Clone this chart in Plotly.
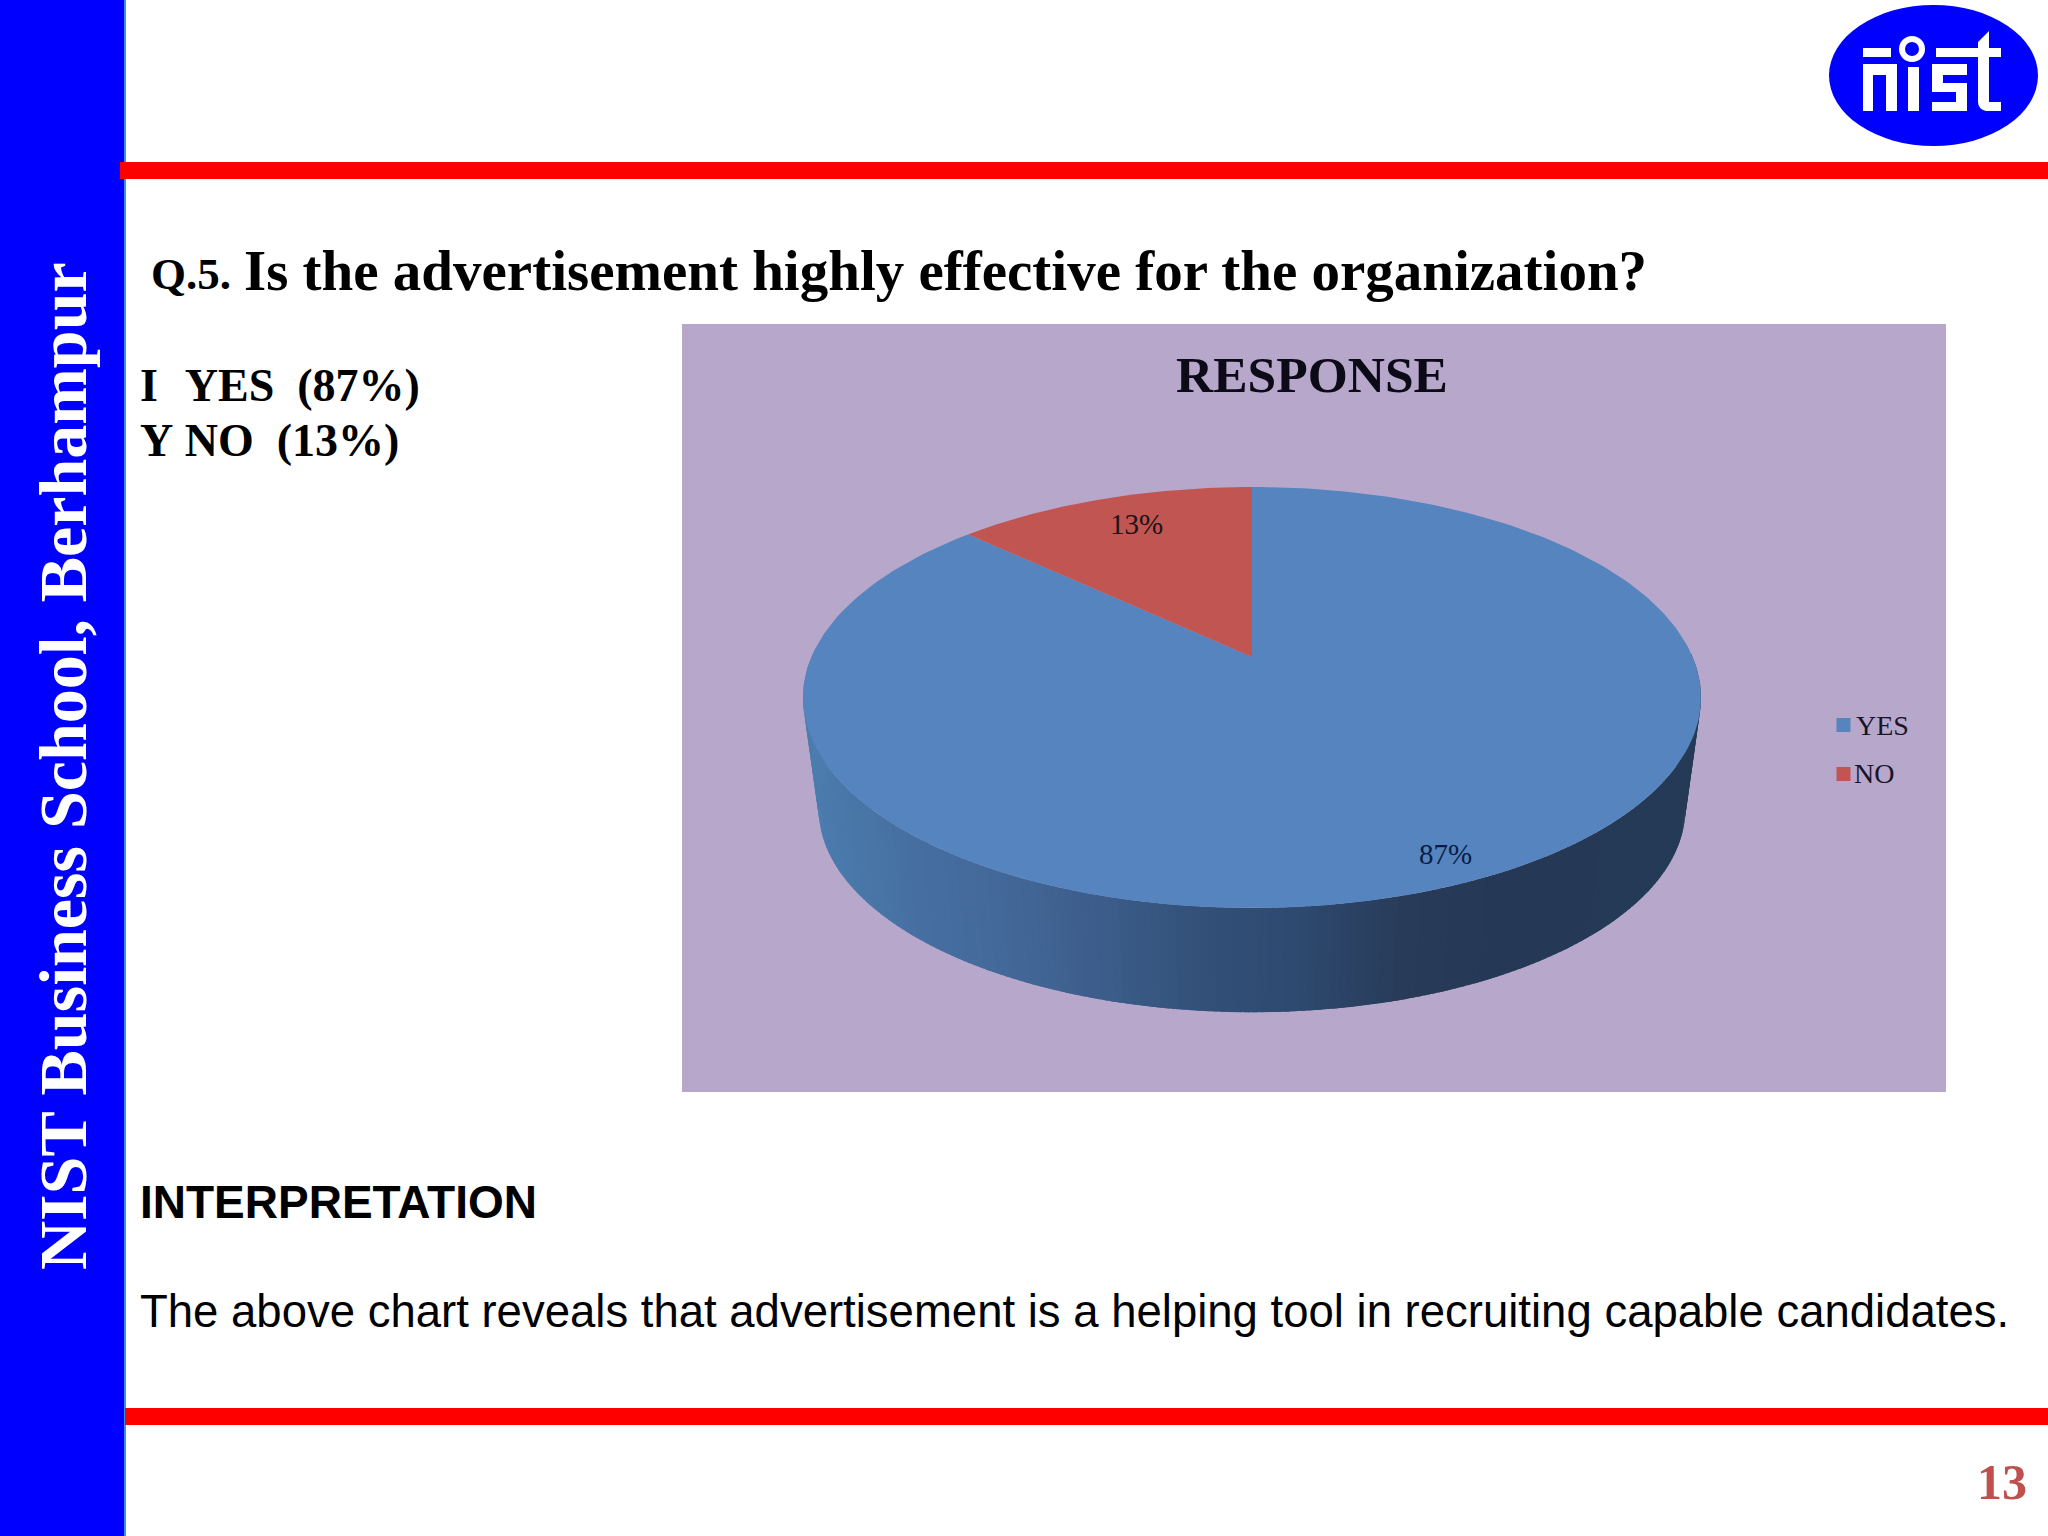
import numpy as np
import plotly.graph_objects as go

# chart data
categories = ['YES', 'NO']
values = [87, 13]
pie_colors = ['#5584BF', '#C15552']
pct_labels = ['87%', '13%']
chart_title = 'RESPONSE'

# side wall shading, left to right across the pie
wall_stops_x = [803, 900, 1000, 1100, 1200, 1290, 1400, 1500, 1701]
wall_stops_r = [76, 70, 67, 60, 50, 46, 40, 37, 37]
wall_stops_g = [124, 112, 104, 92, 80, 74, 60, 57, 58]
wall_stops_b = [174, 162, 152, 138, 120, 112, 90, 86, 86]

# pie projection, a tilted disc seen in perspective
apex_x, apex_y = 1252, 657
scale_x, scale_y, tilt = 440.6, 202.7, 0.1924
depth, lower_scale = 113, 0.965


def project(theta, scale=1.0, dy=0.0):
    # theta runs clockwise from the top of the disc
    u, v = np.sin(theta), np.cos(theta)
    w = 1 + tilt * v
    return apex_x + scale * scale_x * u / w, apex_y + dy - scale * scale_y * v / w


def wedge(start, end):
    t = np.linspace(start, end, 240)
    x, y = project(t)
    return np.r_[apex_x, x, apex_x], np.r_[apex_y, y, apex_y]


fig = go.Figure()

# side wall of the pie, thin strips so the shade can change with x
edges = np.linspace(np.pi / 2 + 0.19, 3 * np.pi / 2 - 0.19, 181)
for a, b in zip(edges[:-1], edges[1:]):
    t = np.linspace(a - 0.012, b, 4)
    xt, yt = project(t)
    xb, yb = project(t, lower_scale, depth)
    mid = xt.mean()
    r = np.interp(mid, wall_stops_x, wall_stops_r)
    g = np.interp(mid, wall_stops_x, wall_stops_g)
    b_ = np.interp(mid, wall_stops_x, wall_stops_b)
    fig.add_trace(go.Scatter(
        x=np.r_[xt, xb[::-1]], y=np.r_[yt, yb[::-1]], mode='lines', fill='toself',
        fillcolor=f'rgb({r:.0f},{g:.0f},{b_:.0f})', line=dict(width=0),
        showlegend=False, hoverinfo='skip'))

# left and right ends of the wall down from the widest part of the disc
for a, b in [(np.pi / 2 - 0.02, np.pi / 2 + 0.2), (3 * np.pi / 2 - 0.2, 3 * np.pi / 2 + 0.02)]:
    t = np.linspace(a, b, 12)
    xt, yt = project(t)
    xb, yb = project(t, lower_scale, depth)
    mid = xt.mean()
    r = np.interp(mid, wall_stops_x, wall_stops_r)
    g = np.interp(mid, wall_stops_x, wall_stops_g)
    b_ = np.interp(mid, wall_stops_x, wall_stops_b)
    fig.add_trace(go.Scatter(
        x=np.r_[xt, xb[::-1]], y=np.r_[yt, yb[::-1]], mode='lines', fill='toself',
        fillcolor=f'rgb({r:.0f},{g:.0f},{b_:.0f})', line=dict(width=0),
        showlegend=False, hoverinfo='skip'))

# top of the pie, slices go clockwise from 12 o'clock
start = 0.0
for name, val, col in zip(categories, values, pie_colors):
    end = start + 2 * np.pi * val / sum(values)
    x, y = wedge(start, end)
    fig.add_trace(go.Scatter(x=x, y=y, mode='lines', fill='toself', fillcolor=col,
                             line=dict(width=0), name=name, showlegend=False, hoverinfo='skip'))
    start = end

# legend squares
for yy, col in zip([725, 774], pie_colors):
    fig.add_trace(go.Scatter(x=[1843.5], y=[yy], mode='markers',
                             marker=dict(symbol='square', size=14, color=col),
                             showlegend=False, hoverinfo='skip'))

SERIF = 'Liberation Serif'
SANS = 'Liberation Sans'


def add_text(text, x, y, size, family=SERIF, color='#000000', anchor='left', bold=False, angle=0):
    if bold:
        text = f'<b>{text}</b>'
    fig.add_annotation(x=x, y=y, xref='x', yref='y', text=text, showarrow=False, xanchor=anchor,
                       yanchor='middle', textangle=angle, borderpad=0,
                       font=dict(family=family, size=size, color=color))


nb = '\u00a0'
hair = '\u200a'
add_text('NIST Business School, Berhampur', 63, 766, 68, color='#FFFFFF', anchor='center', bold=True, angle=-90)
add_text('Q.5.', 150, 274, 45, bold=True)
add_text('Is the advertisement highly effective for the organization?', 243, 270, 57, bold=True)
add_text(f'I{nb}{nb}{hair}YES{nb}{nb}(87%)', 139, 385, 46, bold=True)
add_text(f'Y{nb}NO{nb}{nb}(13%)', 139, 440, 46, bold=True)
add_text('INTERPRETATION', 139, 1202, 46, family=SANS, bold=True)
add_text('The above chart reveals that advertisement is a helping tool in recruiting capable candidates.',
         139, 1311, 45.5, family=SANS)
add_text('13', 2002, 1482, 50, color='#C0504D', anchor='center', bold=True)

add_text(chart_title, 1312, 374, 51.5, color='#0d0a18', anchor='center', bold=True)
add_text(pct_labels[1], 1136, 524, 29, color='#1c1218', anchor='center')
add_text(pct_labels[0], 1445, 854, 29, color='#0b1c44', anchor='center')
add_text(categories[0], 1855, 725, 28, color='#1a1428')
add_text(categories[1], 1853, 773, 28, color='#1a1428')

# slide furniture
shapes = [
    dict(type='rect', x0=682, x1=1946, y0=324, y1=1092, fillcolor='#B6A7CB'),
    dict(type='rect', x0=0, x1=125, y0=0, y1=1536, fillcolor='#0000FF'),
    dict(type='rect', x0=124, x1=126, y0=0, y1=1536, fillcolor='#3A8CFF'),
    dict(type='rect', x0=120, x1=2048, y0=162, y1=179, fillcolor='#FF0000'),
    dict(type='rect', x0=125, x1=2048, y0=1408, y1=1425, fillcolor='#FF0000'),
    dict(type='circle', x0=1829, x1=2038, y0=5, y1=146, fillcolor='#0000FF'),
]
# logo letters
logo_rects = [
    (1863, 1891, 48, 57), (1863, 1873, 64, 111), (1886, 1897, 64, 111), (1863, 1897, 64, 75),
    (1908, 1919, 67, 111),
    (1932, 1967, 64, 75), (1932, 1943, 64, 92), (1932, 1967, 83, 92), (1956, 1967, 83, 111), (1932, 1967, 102, 111),
    (1936, 2001, 48, 57),
]
for x0, x1, y0, y1 in logo_rects:
    shapes.append(dict(type='rect', x0=x0, x1=x1, y0=y0, y1=y1, fillcolor='#FFFFFF'))
shapes.append(dict(type='path', fillcolor='#FFFFFF',
                   path='M1978,42 L1989,31 L1989,102 L2001,102 L2001,111 L1986,111 Q1978,109 1978,102 Z'))
shapes.append(dict(type='circle', x0=1899, x1=1925, y0=36, y1=62, fillcolor='#FFFFFF'))
shapes.append(dict(type='circle', x0=1905, x1=1919, y0=42, y1=56, fillcolor='#0000FF'))
for s in shapes:
    s['layer'] = 'below'
    s['line'] = dict(width=0)
    s['xref'] = 'x'
    s['yref'] = 'y'

fig.update_layout(
    width=2048, height=1536, margin=dict(l=0, r=0, t=0, b=0),
    paper_bgcolor='white', plot_bgcolor='white', showlegend=False, hovermode=False,
    shapes=shapes,
    xaxis=dict(range=[0, 2048], visible=False, fixedrange=True),
    yaxis=dict(range=[1536, 0], visible=False, fixedrange=True),
)

fig.write_html('out.html', config=dict(displayModeBar=False),
               post_script="document.body.style.margin='0';document.body.style.overflow='hidden';")
